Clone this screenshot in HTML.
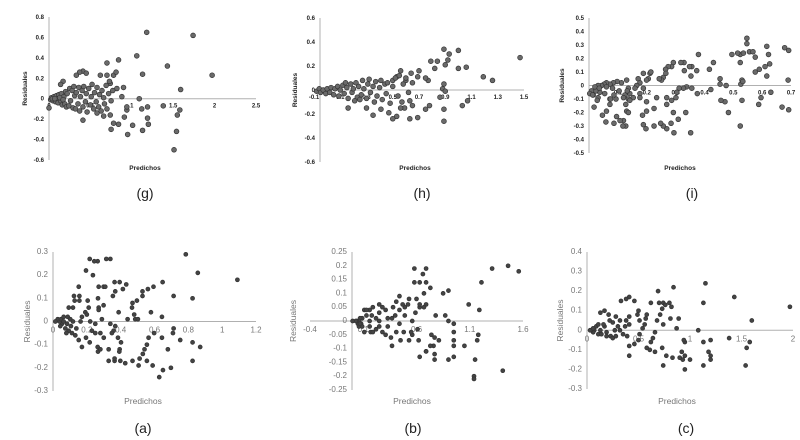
<!DOCTYPE html>
<html><head><meta charset="utf-8">
<style>
html,body{margin:0;padding:0;background:#fff;}
svg{display:block;font-family:"Liberation Sans",sans-serif;}
</style></head>
<body>
<svg id="fig" width="800" height="440" viewBox="0 0 800 440" xmlns="http://www.w3.org/2000/svg"></svg>
<script>
// ===== Panel (g) data =====
const gX=[1.18,1.74,1.97,1.43,1.06,1.13,0.84,0.70,1.59,1.09,1.19,1.12,1.38,1.58,1.55,1.19,1.20,1.13,1.54,1.51,0.95,1.01,0.75,0.84,0.91,0.94,0.94,0.78,0.88,0.90,0.82,0.74,0.62,0.70,0.78,0.81,0.41,0.45,0.37,0.33,0.17,0.14,0.41,0.66,0.74,0.58,
0.02,0.03,0.05,0.06,0.08,0.09,0.10,0.11,0.12,0.14,0.15,0.16,0.18,0.19,0.20,0.21,0.22,0.24,0.25,0.26,0.28,0.29,0.30,0.31,0.32,0.33,0.35,0.36,0.37,0.38,0.40,0.41,0.42,0.44,0.45,0.46,0.48,0.50,0.51,0.52,0.54,0.55,0.57,0.58,0.60,0.61,0.63,0.64,0.66,0.67,0.69,0.70,0.72,0.73,0.75,0.77,0.00,0.04,0.07,0.13,0.17];
const gY=[0.65,0.62,0.23,0.32,0.42,0.24,0.38,0.35,0.09,0.00,-0.08,-0.10,-0.07,-0.11,-0.16,-0.19,-0.25,-0.31,-0.32,-0.50,-0.35,-0.26,-0.30,-0.25,-0.18,-0.11,-0.08,-0.24,0.02,0.11,0.10,0.15,0.23,0.23,0.23,0.26,0.27,0.25,0.26,0.23,0.17,0.14,-0.21,-0.17,-0.16,-0.14,
-0.01,0.01,-0.02,0.02,-0.03,0.03,0.00,-0.04,0.04,-0.02,0.05,-0.06,0.02,-0.05,0.07,-0.08,0.05,-0.07,0.10,-0.02,0.08,-0.09,0.12,0.03,-0.10,0.06,-0.05,0.11,-0.12,0.02,0.08,-0.08,0.12,-0.03,0.05,-0.13,0.10,-0.06,0.02,0.14,-0.10,0.06,-0.03,0.11,-0.08,0.04,-0.12,0.08,0.01,-0.05,0.13,-0.10,0.05,0.17,-0.02,0.08,-0.09,0.00,0.00,0.01,-0.01];
const gXTicks=["0","0.5","1","1.5","2","2.5"];
const gYTicks=["-0.6","-0.4","-0.2","0","0.2","0.4","0.6","0.8"];

// ===== Panel (h) data =====
const hX=[1.47,1.26,1.19,1.06,1.07,1.03,1.00,1.00,0.89,0.93,0.92,0.90,0.82,0.84,0.79,0.89,0.88,0.90,0.86,0.89,0.89,0.78,0.75,0.69,0.63,0.65,0.63,0.59,0.56,0.53,0.50,0.47,0.41,0.35,0.30,0.16,0.70,0.69,0.77,0.75,0.64,0.56,0.53,0.60,0.65,0.50,
-0.08,-0.06,-0.05,-0.03,-0.01,0.00,0.02,0.03,0.05,0.06,0.08,0.09,0.10,0.12,0.13,0.15,0.16,0.18,0.19,0.20,0.22,0.23,0.24,0.26,0.27,0.28,0.30,0.31,0.32,0.33,0.35,0.36,0.37,0.38,0.40,0.41,0.42,0.44,0.45,0.46,0.48,0.50,0.52,0.54,0.55,0.57,0.58,0.60,0.62,0.25,0.14,0.21];
const hY=[0.27,0.08,0.11,0.19,-0.09,-0.13,0.33,0.18,0.34,0.30,0.25,0.21,0.18,0.24,0.24,0.05,0.01,-0.01,-0.06,-0.16,-0.26,-0.13,-0.16,-0.23,-0.24,-0.13,-0.09,-0.15,-0.15,-0.22,-0.24,-0.19,-0.16,-0.21,-0.15,-0.15,0.16,0.11,0.08,0.10,0.14,0.16,0.11,0.08,0.06,0.08,
-0.01,0.01,-0.02,0.00,-0.03,0.01,-0.02,0.02,-0.04,0.01,0.03,-0.05,0.00,0.04,-0.03,0.02,-0.07,0.05,-0.02,0.01,0.06,-0.06,0.03,-0.04,0.08,0.01,-0.07,0.05,0.09,-0.02,0.03,-0.10,0.07,-0.05,0.02,0.08,-0.08,0.05,-0.03,0.06,-0.11,0.03,0.10,-0.05,0.12,-0.10,0.05,0.10,-0.02,-0.08,0.06,-0.09];
const hXTicks=["-0.1","0.1","0.3","0.5","0.7","0.9","1.1","1.3","1.5"];
const hYTicks=["-0.6","-0.4","-0.2","0","0.2","0.4","0.6"];

// ===== Panel (i) data =====
const iX=[0.547,0.547,0.556,0.568,0.576,0.524,0.535,0.524,0.495,0.515,0.616,0.622,0.626,0.678,0.692,0.616,0.63,0.669,0.692,0.69,0.596,0.588,0.61,0.59,0.576,0.53,0.526,0.533,0.53,0.524,0.483,0.471,0.457,0.454,0.454,0.475,0.431,0.417,0.422,0.379,0.373,0.375,0.356,0.348,0.353,0.356,0.352,0.329,0.318,0.33,0.338,0.335,0.327,0.309,0.312,0.292,0.286,0.274,0.265,0.257,0.251,0.243,0.266,0.304,0.301,0.286,0.269,0.269,0.292,0.294,0.284,0.269,0.257,0.248,0.225,0.225,0.234,0.199,0.199,0.197,0.188,0.185,0.211,0.214,0.205,0.188,0.199,0.17,0.176,0.188,0.176,0.153,0.136,0.141,0.124,0.13,0.136,0.141,0.132,0.119,0.127,0.13,0.136,0.119,0.127,0.117,0.107,0.095,0.086,0.058,0.046,0.06,0.072,0.072,0.093,0.104,0.112,0.097,0.084,0.072,0.06,0.052,0.043,0.06,0.037,0.054,0.031,0.028,0.017,0.014,0.023,0.031,0.02,0.008,0.002,0.012,0.035,0.074,0.086,0.081,0.165,0.159,0.176];
const iY=[0.35,0.31,0.25,0.25,0.21,0.23,0.24,0.17,0.23,0.24,0.29,0.23,0.16,0.28,0.26,0.07,-0.05,-0.16,-0.18,0.04,-0.09,-0.14,0.14,0.12,0.10,0.04,0.01,0.03,-0.11,-0.30,-0.20,-0.12,-0.11,0.05,0.01,0.00,0.17,0.12,-0.03,0.23,0.11,-0.06,0.14,0.14,0.07,-0.02,-0.35,0.17,0.17,0.11,-0.01,-0.20,-0.02,-0.25,-0.02,0.17,0.14,0.14,0.12,0.06,0.04,0.05,0.09,-0.05,-0.09,-0.11,-0.09,-0.14,-0.20,-0.35,-0.28,-0.32,-0.30,-0.28,-0.30,-0.17,-0.09,-0.12,-0.19,-0.32,-0.29,-0.22,0.09,0.10,0.05,0.09,0.04,0.05,0.02,-0.02,-0.06,-0.09,-0.10,-0.06,-0.07,0.04,-0.02,-0.11,-0.04,-0.09,-0.14,-0.19,-0.20,-0.26,-0.30,-0.30,-0.26,-0.23,-0.28,-0.27,-0.22,-0.19,-0.14,-0.10,-0.10,-0.04,0.02,0.03,0.02,0.01,0.02,0.01,0.00,-0.01,-0.05,-0.06,-0.09,-0.11,-0.16,-0.07,-0.04,0.00,-0.01,-0.04,-0.06,-0.07,-0.02,-0.10,-0.07,-0.02,0.00,-0.02,-0.09];
const iXTicks=["0.1","0.2","0.3","0.4","0.5","0.6","0.7"];
const iYTicks=["-0.5","-0.4","-0.3","-0.2","-0.1","0","0.1","0.2","0.3","0.4","0.5"];

// ===== Panel (a) data =====
const aX=[0.785,0.856,1.09,0.825,0.713,0.648,0.644,0.713,0.709,0.752,0.825,0.87,0.825,0.697,0.65,0.628,0.679,0.644,0.598,0.589,0.555,0.565,0.579,0.594,0.561,0.529,0.529,0.496,0.47,0.467,0.48,0.486,0.502,0.441,0.555,0.541,0.531,0.512,0.506,0.47,0.427,0.398,0.364,0.364,0.329,0.394,0.392,0.402,0.384,0.368,0.358,0.339,0.348,0.388,0.394,0.433,0.413,0.368,0.354,0.364,0.339,0.315,0.299,0.309,0.27,0.264,0.244,0.217,0.195,0.236,0.266,0.205,0.211,0.27,0.289,0.27,0.299,0.152,0.156,0.124,0.128,0.156,0.118,0.093,0.087,0.191,0.2,0.171,0.163,0.22,0.25,0.23,0.25,0.28,0.3,0.264,0.266,0.28,0.329,0.217,0.171,0.195,0.152,0.132,0.112,0.093,0.073,0.053,0.039,0.028,0.047,0.063,0.083,0.106,0.138,0.102,0.063,0.118,0.079,0.043,0.014];
const aY=[0.29,0.21,0.18,0.10,0.11,0.17,0.02,-0.03,-0.05,-0.08,-0.09,-0.11,-0.17,-0.20,-0.21,-0.24,-0.12,-0.07,-0.05,-0.19,-0.17,-0.07,0.04,0.15,0.14,0.13,0.11,0.09,0.08,0.06,0.03,0.01,0.01,0.01,-0.10,-0.12,-0.14,-0.16,-0.19,-0.17,-0.18,-0.17,-0.17,-0.16,-0.17,-0.12,-0.13,-0.09,-0.07,-0.02,-0.04,-0.01,-0.05,0.04,0.17,0.16,0.14,0.13,0.11,0.17,0.27,0.27,0.15,0.15,0.15,0.26,0.26,0.27,0.22,0.20,0.10,0.09,0.06,0.06,0.01,0.05,0.07,0.15,0.11,0.11,0.09,0.09,0.06,0.06,0.02,0.04,0.03,0.02,0.00,0.00,-0.01,-0.04,-0.05,-0.05,-0.07,-0.11,-0.13,-0.12,-0.12,-0.09,-0.11,-0.07,-0.08,-0.06,-0.05,-0.04,-0.03,-0.01,0.00,0.01,0.01,0.02,-0.01,-0.02,-0.03,0.01,0.00,0.00,-0.05,-0.02,0.00];
const aXTicks=["0","0.2","0.4","0.6","0.8","1","1.2"];
const aYTicks=["-0.3","-0.2","-0.1","0","0.1","0.2","0.3"];

// ===== Panel (b) data =====
const bX=[1.46,1.31,1.56,1.21,1.09,1.19,1.18,1.17,1.05,1.15,1.14,1.14,1.41,0.90,0.85,0.87,0.90,0.95,0.95,0.95,0.95,0.95,0.90,0.78,0.77,0.77,0.74,0.77,0.76,0.73,0.81,0.69,0.69,0.66,0.69,0.63,0.58,0.58,0.73,0.67,0.69,0.67,0.63,0.60,0.63,0.59,0.56,0.53,0.52,0.49,0.56,0.61,0.62,0.63,0.69,0.55,0.53,0.48,0.45,0.49,0.44,0.44,0.47,0.41,0.38,0.40,0.37,0.37,0.41,0.44,0.36,0.33,0.31,0.28,0.25,0.25,0.25,0.25,0.22,0.19,0.18,0.16,0.16,0.13,0.11,0.09,0.08,0.07,0.06,0.05,0.04,0.06,0.17,0.19,0.22,0.28,0.31,0.33,0.16,0.13,0.09,0.11,0.03,0.00,0.07];
const bY=[0.20,0.19,0.18,0.14,0.06,0.04,-0.05,-0.07,-0.09,-0.14,-0.20,-0.21,-0.18,0.11,0.10,0.02,0.00,-0.01,-0.04,-0.07,-0.09,-0.13,-0.14,0.02,-0.12,-0.14,-0.05,-0.06,-0.09,-0.09,-0.07,-0.11,0.19,0.17,0.14,0.14,0.19,0.14,0.12,0.10,0.06,0.05,0.05,0.08,0.06,0.03,0.00,0.08,0.06,0.05,-0.05,-0.03,-0.07,-0.13,-0.11,-0.04,-0.07,-0.04,-0.07,0.02,0.04,0.09,0.06,0.07,0.05,0.02,0.01,-0.09,-0.04,-0.01,-0.06,0.01,0.04,0.05,0.06,0.03,0.00,-0.02,0.01,0.05,0.02,0.00,-0.02,0.02,0.04,0.01,-0.01,0.01,0.00,-0.01,0.00,-0.02,-0.04,-0.04,-0.03,-0.04,-0.05,-0.02,0.04,0.04,-0.02,-0.04,0.00,0.00,-0.01];
const bXTicks=["-0.4","0.1","0.6","1.1","1.6"];
const bYTicks=["-0.25","-0.2","-0.15","-0.1","-0.05","0","0.05","0.1","0.15","0.2","0.25"];

// ===== Panel (c) data =====
const cX=[1.97,1.6,1.43,1.58,1.55,1.54,1.38,1.15,1.13,1.08,1.13,1.2,1.18,1.2,1.2,1.13,1.0,0.95,0.94,0.95,0.95,0.93,0.92,0.9,0.84,0.89,0.87,0.83,0.77,0.74,0.73,0.69,0.7,0.74,0.8,0.82,0.81,0.76,0.73,0.71,0.74,0.68,0.62,0.66,0.64,0.62,0.66,0.61,0.58,0.56,0.57,0.58,0.54,0.51,0.5,0.49,0.51,0.5,0.46,0.41,0.41,0.46,0.41,0.38,0.33,0.41,0.41,0.38,0.37,0.35,0.39,0.32,0.28,0.3,0.27,0.25,0.22,0.23,0.19,0.17,0.21,0.13,0.17,0.16,0.13,0.11,0.09,0.07,0.06,0.04,0.03,0.11,0.25,0.28,0.19,0.06,0.14,0.32];
const cY=[0.12,0.05,0.17,-0.06,-0.09,-0.18,-0.04,0.24,0.14,0.00,-0.06,-0.05,-0.11,-0.13,-0.15,-0.18,-0.15,-0.06,-0.05,-0.13,-0.20,-0.15,-0.11,-0.14,0.22,0.06,0.01,-0.14,-0.13,-0.18,-0.09,0.20,0.14,0.14,0.14,0.12,0.06,0.13,0.11,0.08,0.03,0.05,0.14,-0.01,-0.04,-0.06,-0.11,-0.10,-0.09,0.03,0.06,0.08,0.01,0.05,0.10,0.08,-0.02,-0.05,-0.07,-0.13,-0.08,0.15,0.17,0.16,0.15,0.07,0.03,0.05,0.02,-0.02,-0.03,0.05,0.07,0.02,0.00,0.04,0.05,-0.03,-0.01,0.02,0.08,0.09,0.10,0.03,0.00,-0.02,0.02,0.00,-0.01,0.00,0.00,0.03,-0.04,-0.03,-0.03,0.01,-0.02,0.00];
const cXTicks=["0","0.5","1","1.5","2"];
const cYTicks=["-0.3","-0.2","-0.1","0","0.1","0.2","0.3","0.4"];

const NS="http://www.w3.org/2000/svg";
const svgRoot=document.getElementById('fig');
function mk(tag,attrs,parent){const e=document.createElementNS(NS,tag);for(const k in attrs)e.setAttribute(k,attrs[k]);(parent||svgRoot).appendChild(e);return e;}

function drawPanel(p){
  const g=mk('g',{});
  
  
  const xmin=parseFloat(p.xt[0]), xmax=parseFloat(p.xt[p.xt.length-1]);
  const ymin=parseFloat(p.yt[0]), ymax=parseFloat(p.yt[p.yt.length-1]);
  const sx=v=>p.px0+(v-xmin)/(xmax-xmin)*(p.px1-p.px0);
  const sy=v=>p.pyB+(v-ymin)/(ymax-ymin)*(p.pyT-p.pyB);
  const y0=sy(0);
  const yAx=p.yAxisX!==undefined?p.yAxisX:sx(0);
  const ax=mk('line',{x1:yAx,y1:p.pyT,x2:yAx,y2:p.pyB,stroke:'#b0b0b0','stroke-width':1},g);
  
  
  const xl=mk('line',{x1:p.xLineStart!==undefined?p.xLineStart:p.px0,y1:y0,x2:p.px1,y2:y0,stroke:'#b0b0b0','stroke-width':1},g);
  
  
  p.yt.forEach(t=>{
    const e=mk('text',{x:yAx-5,y:sy(parseFloat(t))+2,'text-anchor':'end','font-size':p.fs,'font-weight':p.fw,fill:p.tc},g);
    e.textContent=t;
    
    
  });
  p.xt.forEach(t=>{
    const e=mk('text',{x:sx(parseFloat(t)),y:y0+p.fs+3,'text-anchor':'middle','font-size':p.fs,'font-weight':p.fw,fill:p.tc},g);
    e.textContent=t;
    
    
  });
  p.xs.forEach((xv,i)=>{
    const c=mk('circle',{cx:sx(xv),cy:sy(p.ys[i]),r:p.r,fill:p.fill,stroke:'#333','stroke-width':0.7},g);
    
    
  });
  const yl=mk('text',{x:0,y:0,transform:`translate(${p.ylx},${(p.pyT+p.pyB)/2}) rotate(-90)`,'text-anchor':'middle','font-size':p.lfs,'font-weight':p.fw,fill:p.tc},g);
  yl.textContent='Residuales';
  
  
  const xt=mk('text',{x:p.xlx,y:p.xly,'text-anchor':'middle','font-size':p.lfs,'font-weight':p.fw,fill:p.tc},g);
  xt.textContent='Predichos';
  
  
  const cap=mk('text',{x:p.capx,y:p.capy,'text-anchor':'middle','font-size':14,fill:'#222'},g);
  cap.textContent='('+p.id+')';
  
  
}
const topStyle={fs:6,fw:'bold',tc:'#222',lfs:6.5,r:2.4,fill:'#6a6a6a'};
const botStyle={fs:8,fw:'normal',tc:'#777',lfs:8.5,r:2.0,fill:'#444'};
drawPanel(Object.assign({id:'g',xs:gX,ys:gY,xt:gXTicks,yt:gYTicks,px0:49,px1:256,pyT:17,pyB:160,ylx:27,xlx:145,xly:170,capx:145,capy:198},topStyle));
drawPanel(Object.assign({id:'h',xs:hX,ys:hY,xt:hXTicks,yt:hYTicks,px0:314,px1:524,yAxisX:320,xLineStart:320,pyT:18,pyB:162,ylx:297,xlx:415,xly:170,capx:422,capy:198},topStyle));
drawPanel(Object.assign({id:'i',xs:iX,ys:iY,xt:iXTicks,yt:iYTicks,px0:618,px1:791,yAxisX:589,xLineStart:589,pyT:18,pyB:153,ylx:564,xlx:680,xly:170,capx:692,capy:198},topStyle));
drawPanel(Object.assign({id:'a',xs:aX,ys:aY,xt:aXTicks,yt:aYTicks,px0:53,px1:256,pyT:252,pyB:391,ylx:30,xlx:143,xly:404,capx:143,capy:433},botStyle));
drawPanel(Object.assign({id:'b',xs:bX,ys:bY,xt:bXTicks,yt:bYTicks,px0:310,px1:523,yAxisX:352,pyT:252,pyB:390,ylx:296,xlx:412,xly:404,capx:413,capy:433},botStyle));
drawPanel(Object.assign({id:'c',xs:cX,ys:cY,xt:cXTicks,yt:cYTicks,px0:587,px1:793,pyT:252,pyB:389,ylx:563,xlx:677,xly:404,capx:686,capy:433},botStyle));
</script>
</body></html>
